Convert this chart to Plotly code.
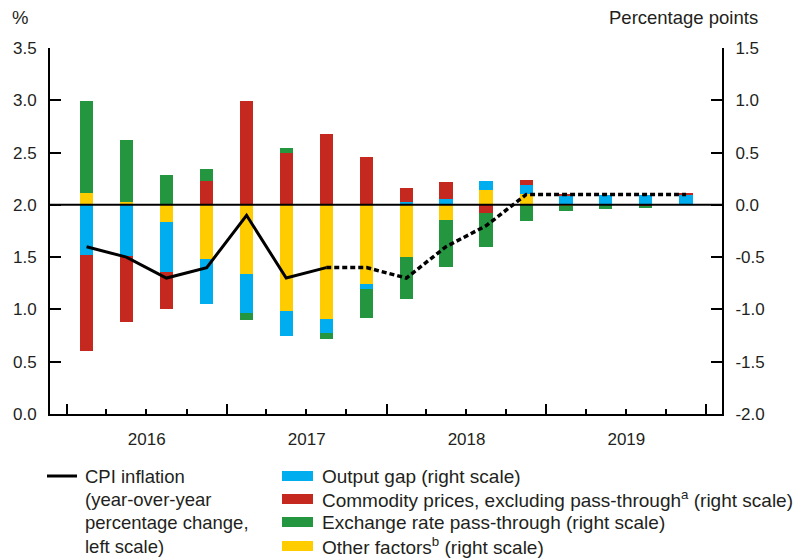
import plotly.graph_objects as go
import pandas as pd

# ---------------- data ----------------
quarters = ["2016Q1", "2016Q2", "2016Q3", "2016Q4",
            "2017Q1", "2017Q2", "2017Q3", "2017Q4",
            "2018Q1", "2018Q2", "2018Q3", "2018Q4",
            "2019Q1", "2019Q2", "2019Q3", "2019Q4"]

# contributions, percentage points (right scale)
output_gap = [-0.48, -0.49, -0.48, -0.43, -0.375, -0.24, -0.14, -0.045,
              0.03, 0.06, 0.09, 0.09, 0.09, 0.09, 0.09, 0.09]
commodity = [-0.92, -0.63, -0.35, 0.23, 0.99, 0.50, 0.68, 0.46,
             0.13, 0.156, -0.08, 0.05, 0.01, 0.0, -0.013, 0.02]
exchange = [0.88, 0.60, 0.29, 0.115, -0.067, 0.048, -0.05, -0.28,
            -0.40, -0.455, -0.325, -0.15, -0.05, -0.04, -0.01, 0.0]
other = [0.11, 0.025, -0.165, -0.52, -0.66, -1.015, -1.09, -0.755,
         -0.50, -0.14, 0.14, 0.10, -0.01, 0.0, 0.0, 0.0]

# CPI inflation, % (left scale); actual up to 2017Q3, projection afterwards
cpi = [1.6, 1.5, 1.3, 1.4, 1.9, 1.3, 1.4, 1.4,
       1.3, 1.6, 1.8, 2.1, 2.1, 2.1, 2.1, 2.1]
last_actual = 6

left_tickvals = [0.0, 0.5, 1.0, 1.5, 2.0, 2.5, 3.0, 3.5]
left_ticktext = ["0.0", "0.5", "1.0", "1.5", "2.0", "2.5", "3.0", "3.5"]
right_tickvals = [-2.0, -1.5, -1.0, -0.5, 0.0, 0.5, 1.0, 1.5]
right_ticktext = ["-2.0", "-1.5", "-1.0", "-0.5", "0.0", "0.5", "1.0", "1.5"]

series_names = ["Output gap (right scale)",
                "Commodity prices, excluding pass-through<sup>a</sup> (right scale)",
                "Exchange rate pass-through (right scale)",
                "Other factors<sup>b</sup> (right scale)"]
cpi_label = ["CPI inflation", "(year-over-year", "percentage change,", "left scale)"]

C_BLUE = "#00AEEF"
C_RED = "#C4281F"
C_GREEN = "#23963F"
C_YELLOW = "#FFCC00"
TXT = "#231F20"
FONT = "Liberation Sans, Arial, sans-serif"
FS_TICK = 17
FS_TEXT = 18.5
FS_LEG2 = 19

# ---------------- geometry ----------------
W, H = 803, 560
PL, PR, PT, PB = 50, 722, 48, 414  # plot-area pixel edges


def px_x(p):
    return (p - PL) / (PR - PL)


def px_y(p):
    return (PB - p) / (PB - PT)


per = pd.PeriodIndex(quarters, freq="Q")
mids = per.start_time + (per.end_time - per.start_time) / 2
bar_w = 30.4 * 86400000

fig = go.Figure()

# stacking order (closest to zero first)
for vals, col, nm in [(other, C_YELLOW, series_names[3]),
                      (output_gap, C_BLUE, series_names[0]),
                      (commodity, C_RED, series_names[1]),
                      (exchange, C_GREEN, series_names[2])]:
    fig.add_trace(go.Bar(x=mids, y=vals, name=nm, marker_color=col,
                         marker_line_width=0, width=bar_w, yaxis="y",
                         showlegend=False))

fig.add_trace(go.Scatter(x=mids[:last_actual + 1], y=cpi[:last_actual + 1],
                         mode="lines", line=dict(color="black", width=3),
                         yaxis="y2", showlegend=False, name="CPI inflation"))
fig.add_trace(go.Scatter(x=mids[last_actual:], y=cpi[last_actual:],
                         mode="lines", line=dict(color="black", width=3.5, dash="5px,3px"),
                         yaxis="y2", showlegend=False, name="CPI projection"))

axis_common = dict(showline=True, linecolor="black", linewidth=2,
                   ticks="inside", tickcolor="black", tickwidth=2,
                   showgrid=False, zeroline=False,
                   tickfont=dict(family=FONT, size=FS_TICK, color=TXT))

fig.update_layout(
    width=W, height=H,
    margin=dict(l=PL, r=W - PR, t=PT, b=H - PB),
    paper_bgcolor="white", plot_bgcolor="white",
    barmode="relative",
    bargap=0,
    xaxis=dict(type="date",
               range=["2015-11-24", "2020-02-06"],
               tick0="2016-01-01", dtick="M12", tickformat="%Y",
               ticklabelmode="period", ticklen=10,
               ticklabelstandoff=9,
               minor=dict(dtick="M3", tick0="2016-01-01", ticks="inside",
                          ticklen=5, tickwidth=1.5, tickcolor="black"),
               **axis_common),
    yaxis=dict(side="right", range=[-2.0, 1.5], tickmode="array",
               tickvals=right_tickvals, ticktext=right_ticktext,
               ticklen=11, ticklabelstandoff=8, **axis_common),
    yaxis2=dict(side="left", overlaying="y", range=[0.0, 3.5], tickmode="array",
                tickvals=left_tickvals, ticktext=left_ticktext,
                ticklen=11, ticklabelstandoff=8, **axis_common),
)

# zero line of the contributions scale
fig.add_shape(type="line", xref="paper", x0=0, x1=1, yref="y", y0=0, y1=0,
              line=dict(color="black", width=2), layer="above")

ann_font = dict(family=FONT, size=FS_TEXT, color=TXT)
leg2_font = dict(family=FONT, size=FS_LEG2, color=TXT)
fig.add_annotation(text="%", xref="paper", yref="paper", x=px_x(20), y=px_y(18),
                   xanchor="center", yanchor="middle", showarrow=False, font=ann_font)
fig.add_annotation(text="Percentage points", xref="paper", yref="paper",
                   x=px_x(760), y=px_y(18), xanchor="right", yanchor="middle",
                   showarrow=False, font=ann_font)

# ---------------- legend (drawn manually) ----------------
rows = [476, 499, 522, 546]
fig.add_shape(type="line", xref="paper", yref="paper",
              x0=px_x(47), x1=px_x(77), y0=px_y(rows[0]), y1=px_y(rows[0]),
              line=dict(color="black", width=3))
for r, t in zip(rows, cpi_label):
    fig.add_annotation(text=t, xref="paper", yref="paper", x=px_x(83), y=px_y(r),
                       xanchor="left", yanchor="middle", showarrow=False, font=ann_font)
for r, col, t in zip(rows, [C_BLUE, C_RED, C_GREEN, C_YELLOW], series_names):
    fig.add_shape(type="rect", xref="paper", yref="paper",
                  x0=px_x(282), x1=px_x(313), y0=px_y(r - 5), y1=px_y(r + 5),
                  fillcolor=col, line=dict(width=0))
    fig.add_annotation(text=t, xref="paper", yref="paper", x=px_x(320), y=px_y(r),
                       xanchor="left", yanchor="middle", showarrow=False, font=leg2_font)

# the page's default body margin would shift the figure by 8px
fig.write_html("out.html", config={"displayModeBar": False},
               post_script="document.body.style.margin='0px';")
